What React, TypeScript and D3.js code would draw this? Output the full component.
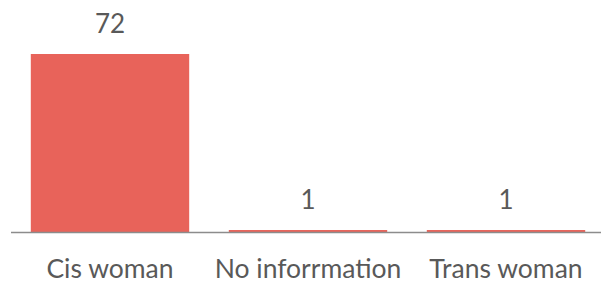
import { useEffect, useRef } from "react";
import * as d3 from "d3";

const categories = ["Cis woman", "No inforrmation", "Trans woman"];
const counts = [72, 1, 1];

const width = 602;
const height = 283;

export default function App() {
  const svgRef = useRef<SVGSVGElement | null>(null);

  useEffect(() => {
    if (!svgRef.current) return;
    const svg = d3.select(svgRef.current);
    svg.selectAll("*").remove();

    const x = d3
      .scaleBand()
      .domain(categories)
      .range([11, 605])
      .paddingInner(0.2)
      .paddingOuter(0.1);

    const y = d3.scaleLinear().domain([0, 72]).range([232.5, 54]);

    const font = "Lato, 'Open Sans', sans-serif";

    // Bars
    svg
      .selectAll("rect.bar")
      .data(counts)
      .enter()
      .append("rect")
      .attr("class", "bar")
      .attr("x", (_, i) => x(categories[i]) ?? 0)
      .attr("y", (d) => y(d))
      .attr("width", x.bandwidth())
      .attr("height", (d) => y(0) - y(d))
      .attr("fill", "#E8635A");

    // Baseline
    svg
      .append("line")
      .attr("x1", 11)
      .attr("x2", 601)
      .attr("y1", y(0))
      .attr("y2", y(0))
      .attr("stroke", "#8c8c8c")
      .attr("stroke-width", 1.5);

    // Value labels
    svg
      .selectAll("text.val")
      .data(counts)
      .enter()
      .append("text")
      .attr("class", "val")
      .attr("x", (_, i) => (x(categories[i]) ?? 0) + x.bandwidth() / 2)
      .attr("y", (d) => y(d) - 21)
      .attr("text-anchor", "middle")
      .attr("font-family", font)
      .attr("font-size", 26)
      .attr("fill", "#595959")
      .text((d) => d);

    // Category labels
    svg
      .selectAll("text.cat")
      .data(categories)
      .enter()
      .append("text")
      .attr("class", "cat")
      .attr("x", (d) => (x(d) ?? 0) + x.bandwidth() / 2)
      .attr("y", 278)
      .attr("text-anchor", "middle")
      .attr("font-family", font)
      .attr("font-size", 26.5)
      .attr("fill", "#595959")
      .text((d) => d);
  }, []);

  return (
    <svg
      ref={svgRef}
      width={width}
      height={height}
      style={{ position: "absolute", left: 0, top: 0, background: "#fff" }}
    />
  );
}
